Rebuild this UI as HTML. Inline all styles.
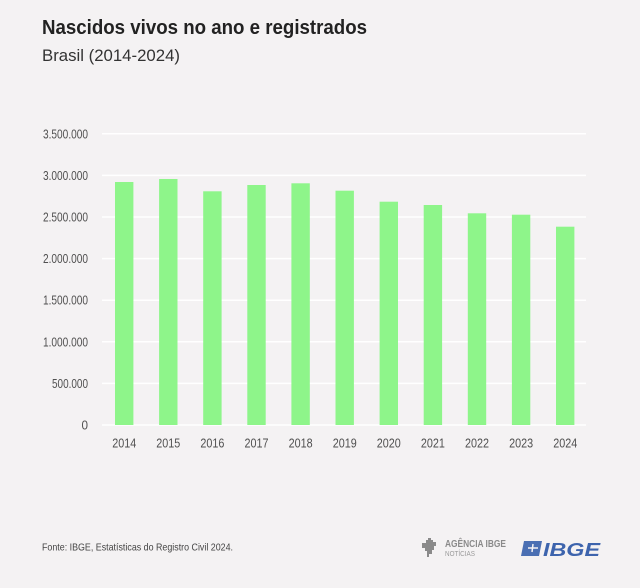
<!DOCTYPE html>
<html><head><meta charset="utf-8"><style>
html,body{margin:0;padding:0;background:#f4f2f3;}
svg{display:block;}
text{font-family:"Liberation Sans",sans-serif;}
</style></head><body>
<svg width="640" height="588" viewBox="0 0 640 588" xmlns="http://www.w3.org/2000/svg">
<rect width="640" height="588" fill="#f4f2f3"/>
<text x="42" y="34" font-size="20" font-weight="bold" fill="#222" textLength="325" lengthAdjust="spacingAndGlyphs">Nascidos vivos no ano e registrados</text>
<text x="42" y="61" font-size="17" fill="#333" textLength="138" lengthAdjust="spacingAndGlyphs">Brasil (2014-2024)</text>
<g stroke="#ffffff" stroke-width="1.5">
<line x1="102" x2="586" y1="133.8" y2="133.8"/>
<line x1="102" x2="586" y1="175.4" y2="175.4"/>
<line x1="102" x2="586" y1="217" y2="217"/>
<line x1="102" x2="586" y1="258.6" y2="258.6"/>
<line x1="102" x2="586" y1="300.2" y2="300.2"/>
<line x1="102" x2="586" y1="341.8" y2="341.8"/>
<line x1="102" x2="586" y1="383.4" y2="383.4"/>
<line x1="102" x2="586" y1="425" y2="425"/>
</g>
<g font-size="12.5" fill="#505050" text-anchor="end">
<text x="88" y="138.3" textLength="45" lengthAdjust="spacingAndGlyphs">3.500.000</text>
<text x="88" y="179.9" textLength="45" lengthAdjust="spacingAndGlyphs">3.000.000</text>
<text x="88" y="221.5" textLength="45" lengthAdjust="spacingAndGlyphs">2.500.000</text>
<text x="88" y="263.1" textLength="45" lengthAdjust="spacingAndGlyphs">2.000.000</text>
<text x="88" y="304.7" textLength="45" lengthAdjust="spacingAndGlyphs">1.500.000</text>
<text x="88" y="346.3" textLength="45" lengthAdjust="spacingAndGlyphs">1.000.000</text>
<text x="88" y="387.9" textLength="36" lengthAdjust="spacingAndGlyphs">500.000</text>
<text x="88" y="429.5" textLength="6.5" lengthAdjust="spacingAndGlyphs">0</text>
</g>
<g fill="#8ef58a">
<rect x="115" y="182" width="18.4" height="243"/>
<rect x="159.1" y="179" width="18.4" height="246"/>
<rect x="203.2" y="191.3" width="18.4" height="233.7"/>
<rect x="247.3" y="185" width="18.4" height="240"/>
<rect x="291.4" y="183.3" width="18.4" height="241.7"/>
<rect x="335.5" y="190.7" width="18.4" height="234.3"/>
<rect x="379.6" y="201.7" width="18.4" height="223.3"/>
<rect x="423.7" y="205" width="18.4" height="220"/>
<rect x="467.8" y="213.3" width="18.4" height="211.7"/>
<rect x="511.9" y="214.7" width="18.4" height="210.3"/>
<rect x="556" y="226.7" width="18.4" height="198.3"/>
</g>
<g font-size="13" fill="#505050" text-anchor="middle">
<text x="124.2" y="447.5" textLength="24" lengthAdjust="spacingAndGlyphs">2014</text>
<text x="168.3" y="447.5" textLength="24" lengthAdjust="spacingAndGlyphs">2015</text>
<text x="212.4" y="447.5" textLength="24" lengthAdjust="spacingAndGlyphs">2016</text>
<text x="256.5" y="447.5" textLength="24" lengthAdjust="spacingAndGlyphs">2017</text>
<text x="300.6" y="447.5" textLength="24" lengthAdjust="spacingAndGlyphs">2018</text>
<text x="344.7" y="447.5" textLength="24" lengthAdjust="spacingAndGlyphs">2019</text>
<text x="388.8" y="447.5" textLength="24" lengthAdjust="spacingAndGlyphs">2020</text>
<text x="432.9" y="447.5" textLength="24" lengthAdjust="spacingAndGlyphs">2021</text>
<text x="477" y="447.5" textLength="24" lengthAdjust="spacingAndGlyphs">2022</text>
<text x="521.1" y="447.5" textLength="24" lengthAdjust="spacingAndGlyphs">2023</text>
<text x="565.2" y="447.5" textLength="24" lengthAdjust="spacingAndGlyphs">2024</text>
</g>
<text x="42" y="550.5" font-size="10.5" fill="#444" textLength="191" lengthAdjust="spacingAndGlyphs">Fonte: IBGE, Estatísticas do Registro Civil 2024.</text>
<!-- Agencia IBGE logo -->
<g fill="#8a8a8a">
<path d="M422 543 h4 v-3 h2 v-2 h3 v2 h2 v2 h3 v4 h-2 v4 h-2 v4 h-3 v3 h-2 v-6 h-2 v-3 h-3 z"/>
</g>
<text x="445" y="547" font-size="10" font-weight="bold" fill="#8a8a8a" textLength="61" lengthAdjust="spacingAndGlyphs">AGÊNCIA IBGE</text>
<text x="445" y="556" font-size="7" fill="#9a9a9a" textLength="30" lengthAdjust="spacingAndGlyphs">NOTÍCIAS</text>
<!-- IBGE logo -->
<path d="M524 541 h18 l-3 15 h-18 z" fill="#4a6fb3"/>
<path d="M528 548 h10 M533 544 l-1 8" stroke="#f4f2f3" stroke-width="1.5"/>
<text x="543" y="556" font-size="18" font-weight="bold" font-style="italic" fill="#3d64ad" textLength="57" lengthAdjust="spacingAndGlyphs">IBGE</text>
</svg>
</body></html>
